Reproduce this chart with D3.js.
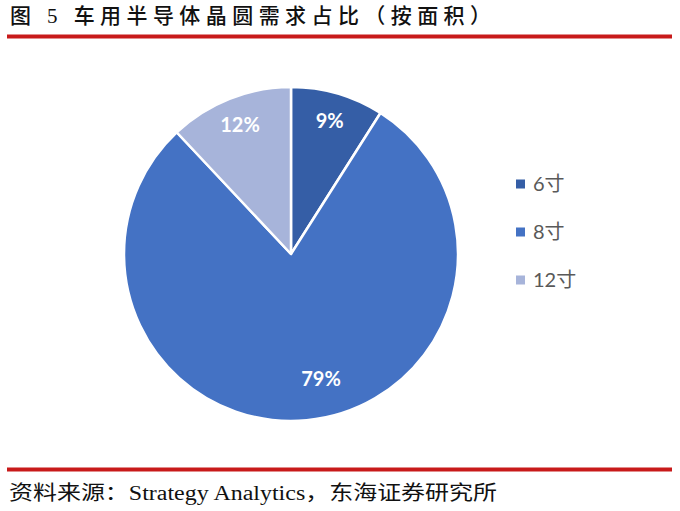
<!DOCTYPE html>
<html>
<head>
<meta charset="utf-8">
<script src="https://cdn.jsdelivr.net/npm/d3@7"></script>
<style>
  html, body { margin: 0; padding: 0; background: #fff; }
  svg { display: block; }
</style>
</head>
<body>
<svg id="chart" width="680" height="511"></svg>
<script>
// wafer sizes and their share of demand (by area)
const categories = ["6寸", "8寸", "12寸"];
const shares = [9, 79, 12];
const colors = ["#355EA6", "#4472C4", "#A7B4DA"];

const titleText = "图 5 车用半导体晶圆需求占比（按面积）";
const sourceText = "资料来源：Strategy Analytics，东海证券研究所";

function drawPie(width, height) {
    const size = {
        width: width,
        height: height,
        cx: 291,
        cy: 254,
        r: 167
    };
    const svg = d3.select('#chart');

    // title + red rules
    svg.append("text")
        .attr("x", 10)
        .attr("y", 23)
        .attr("font-family", "'Liberation Serif', 'Noto Sans CJK SC', serif")
        .attr("font-size", 21)
        .attr("font-weight", 500)
        .attr("fill", "#111")
        .attr("textLength", 481)
        .attr("lengthAdjust", "spacing")
        .text(titleText);

    svg.append("rect")
        .attr("x", 7).attr("y", 34.5)
        .attr("width", 665).attr("height", 4)
        .attr("fill", "#C81A1A");

    svg.append("rect")
        .attr("x", 7).attr("y", 467.5)
        .attr("width", 665).attr("height", 4)
        .attr("fill", "#C81A1A");

    svg.append("text")
        .attr("x", 9)
        .attr("y", 500)
        .attr("font-family", "'Liberation Serif', 'Noto Sans CJK SC', serif")
        .attr("font-size", 20)
        .attr("fill", "#111")
        .attr("textLength", 488)
        .attr("lengthAdjust", "spacingAndGlyphs")
        .text(sourceText);

    const data = categories.map((c, i) => ({ category: c, value: shares[i] }));

    const pie = d3.pie()
        .value(d => d.value)
        .sort(null);

    const arcs = pie(data);

    const colorScale = d3.scaleOrdinal()
        .domain(categories)
        .range(colors);

    const arc = d3.arc()
        .innerRadius(0)
        .outerRadius(size.r);

    const g = svg.append("g")
        .attr("transform", `translate(${size.cx}, ${size.cy})`);

    g.selectAll("path")
        .data(arcs)
        .enter().append("path")
        .attr("d", arc)
        .attr("fill", d => colorScale(d.data.category))
        .attr("stroke", "#fff")
        .attr("stroke-width", 2.5)
        .attr("stroke-linejoin", "round");

    // labels sit at ~83% of radius; the big slice label is pulled in like Excel does
    const labelArc = d3.arc()
        .innerRadius(size.r * 0.83)
        .outerRadius(size.r * 0.83);

    g.selectAll("text.lbl")
        .data(arcs)
        .enter().append("text")
        .attr("class", "lbl")
        .attr("transform", d => {
            const [x, y] = labelArc.centroid(d);
            if (d.data.value > 50) return `translate(${x + 17}, ${y - 13})`;
            return `translate(${x}, ${y})`;
        })
        .attr("text-anchor", "middle")
        .attr("dy", "0.36em")
        .attr("font-family", "Lato, 'Open Sans', sans-serif")
        .attr("font-weight", "bold")
        .attr("font-size", 20)
        .attr("fill", "#fff")
        .text(d => d.data.value + "%");

    // legend
    const legendY = d3.scalePoint()
        .domain(categories)
        .range([184, 280]);

    const legend = svg.selectAll("g.legend")
        .data(categories)
        .enter().append("g")
        .attr("class", "legend")
        .attr("transform", d => `translate(516, ${legendY(d)})`);

    legend.append("rect")
        .attr("x", 0)
        .attr("y", -4.5)
        .attr("width", 9)
        .attr("height", 9)
        .attr("fill", d => colorScale(d));

    legend.append("text")
        .attr("x", 17)
        .attr("dy", "0.36em")
        .attr("font-family", "Lato, 'Noto Sans CJK SC', sans-serif")
        .attr("font-size", 20)
        .attr("fill", "#595959")
        .text(d => d);
}

drawPie(680, 511);
</script>
</body>
</html>
